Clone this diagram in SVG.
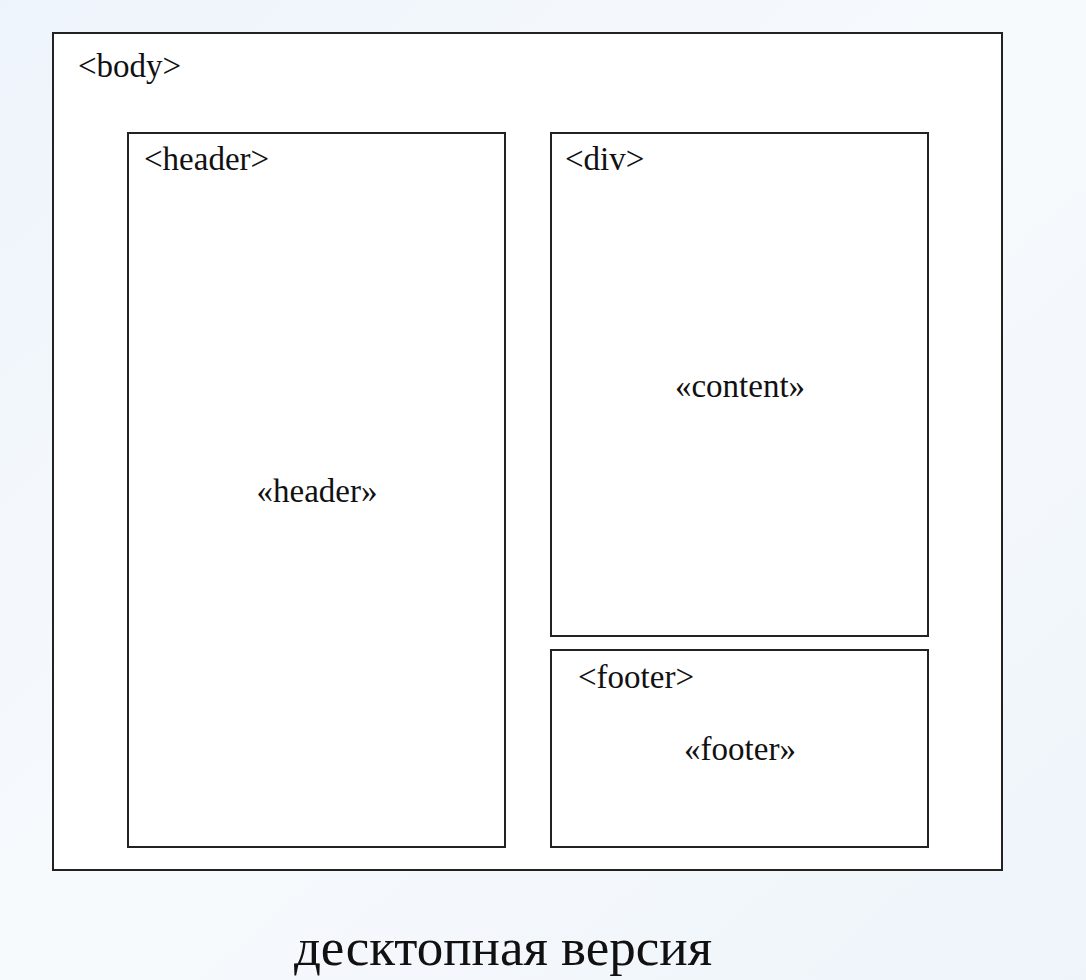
<svg xmlns="http://www.w3.org/2000/svg" width="1086" height="980" viewBox="0 0 1086 980">
<defs>
<linearGradient id="bg" x1="0" y1="0" x2="1" y2="1">
<stop offset="0" stop-color="#eef4fb"/>
<stop offset="0.5" stop-color="#f7fafd"/>
<stop offset="1" stop-color="#eef4fa"/>
</linearGradient>
<style>
.box{fill:#ffffff;stroke:#222;stroke-width:2}
.t{font-family:"Liberation Serif","Times New Roman",serif;font-size:33px;fill:#111}
.c{text-anchor:middle}
.cap{font-family:"Liberation Serif","Times New Roman",serif;font-size:53px;fill:#111;text-anchor:middle}
</style>
</defs>
<rect width="1086" height="980" fill="url(#bg)"/>
<g id="body">
<rect class="box" x="53" y="33" width="949" height="837"/>
<text class="t" x="78" y="77">&lt;body&gt;</text>
</g>
<g id="header">
<rect class="box" x="128" y="133" width="377" height="714"/>
<text class="t" x="144" y="170">&lt;header&gt;</text>
<text class="t c" x="317" y="502">«header»</text>
</g>
<g id="div">
<rect class="box" x="551" y="133" width="377" height="503"/>
<text class="t" x="565" y="170">&lt;div&gt;</text>
<text class="t c" x="740" y="397">«content»</text>
</g>
<g id="footer">
<rect class="box" x="551" y="650" width="377" height="197"/>
<text class="t" x="578" y="688">&lt;footer&gt;</text>
<text class="t c" x="740" y="760">«footer»</text>
</g>
<g id="connectors"/>
<text class="cap" x="503" y="965">десктопная версия</text>
</svg>
